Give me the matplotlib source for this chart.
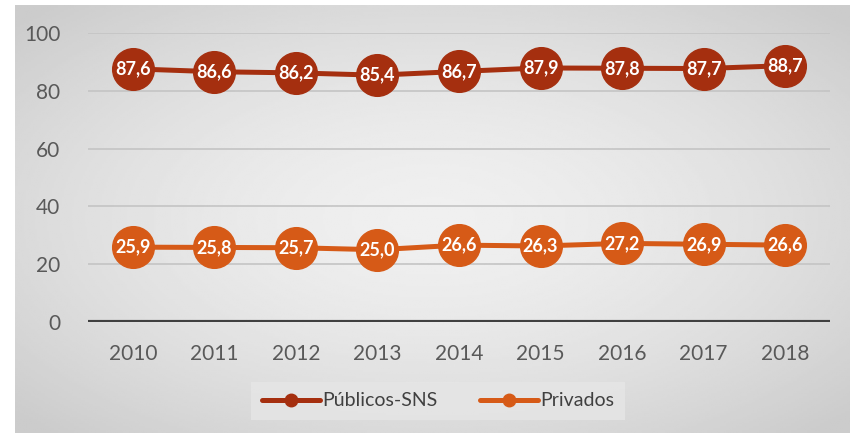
import numpy as np
import matplotlib.pyplot as plt
from matplotlib.lines import Line2D

years = ['2010', '2011', '2012', '2013', '2014', '2015', '2016', '2017', '2018']
publicos = [87.6, 86.6, 86.2, 85.4, 86.7, 87.9, 87.8, 87.7, 88.7]
privados = [25.9, 25.8, 25.7, 25.0, 26.6, 26.3, 27.2, 26.9, 26.6]

plt.rcParams['font.family'] = ['Lato', 'DejaVu Sans']

fig = plt.figure(figsize=(8.54, 4.33), dpi=100)

# radial gray background
bg = fig.add_axes([15 / 854, 0, 835 / 854, 428 / 433])
yy, xx = np.mgrid[-1:1:200j, -1:1:400j]
r = np.sqrt(xx ** 2 + yy ** 2)
bg.imshow(0.94 - 0.14 * np.clip(r / 1.35, 0, 1) ** 1.6, cmap='gray', vmin=0, vmax=1,
          aspect='auto', extent=[0, 1, 0, 1])
bg.set_axis_off()

ax = fig.add_axes([88 / 854, 1 - 322 / 433, 742 / 854, 289 / 433])
ax.patch.set_alpha(0)
x = np.arange(len(years))

series = [('Públicos-SNS', publicos, '#A52F0F'), ('Privados', privados, '#D65A17')]
for name, vals, col in series:
    ax.plot(x, vals, color=col, lw=3.6, marker='o', ms=30, label=name,
            solid_capstyle='round', zorder=3)
    for xi, v in zip(x, vals):
        ax.text(xi, v, f'{v:.1f}'.replace('.', ','), ha='center', va='center',
                color='white', fontsize=13, fontweight='bold', zorder=4)

ax.set_ylim(0, 100)
ax.set_xlim(-0.55, 8.55)
ax.set_yticks([0, 20, 40, 60, 80, 100])
ax.set_xticks(x)
ax.set_xticklabels(years)
ax.tick_params(length=0, labelsize=15, labelcolor='#595959')
ax.tick_params(axis='x', pad=16)
ax.tick_params(axis='y', pad=20)
for s in ax.spines.values():
    s.set_visible(False)
ax.grid(axis='y', color='#C4C4C4', lw=1.2, zorder=0)
ax.axhline(0, color='#404040', lw=3, zorder=2)

# legend handles with smaller markers
handles = [Line2D([], [], color=c, lw=3.6, marker='o', ms=9, solid_capstyle='round')
           for _, _, c in series]
leg = fig.legend(handles, [s[0] for s in series], loc='center',
                 bbox_to_anchor=(438 / 854, 1 - 401 / 433), ncol=2, frameon=True,
                 fontsize=14, handlelength=3.0, columnspacing=2.2, handletextpad=0.1,
                 borderpad=0.55, fancybox=False)
leg.get_frame().set_facecolor('#E6E6E6')
leg.get_frame().set_edgecolor('none')
for t in leg.get_texts():
    t.set_color('#404040')

fig.savefig('out.png', dpi=100)
